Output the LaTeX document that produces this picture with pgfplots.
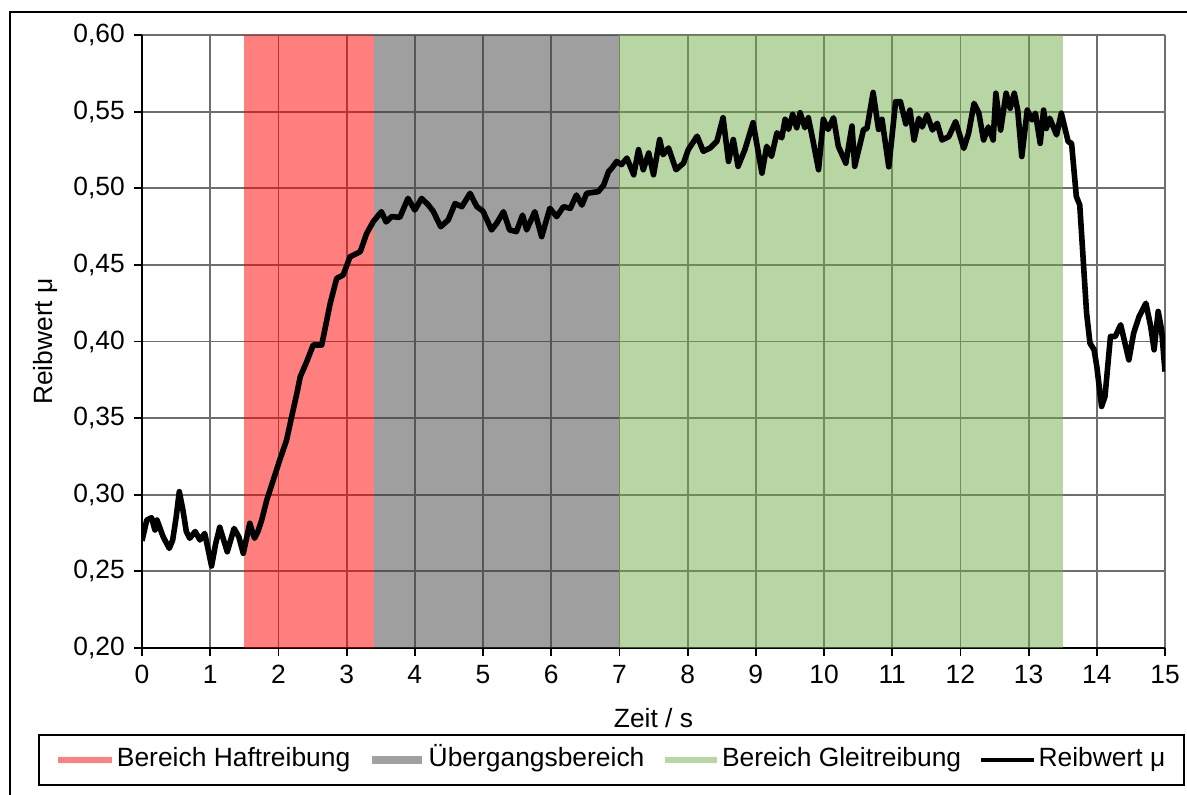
\documentclass[border=0pt]{standalone}
\usepackage{pgfplots}
\pgfplotsset{compat=1.18}
\usepackage{fontspec}
\setmainfont{Liberation Sans}
\definecolor{gridc}{RGB}{110,110,110}
\definecolor{legred}{RGB}{255,128,128}
\definecolor{leggray}{RGB}{160,160,160}
\definecolor{leggreen}{RGB}{184,215,163}
\definecolor{fgreen}{RGB}{112,173,71}
\begin{document}
\fontsize{13.2}{15.5}\selectfont
\begin{tikzpicture}
\begin{axis}[
  at={(0pt,0pt)}, anchor=south west,
  scale only axis, width=511.5pt, height=306.5pt,
  xmin=0, xmax=15, ymin=0.2, ymax=0.6,
  axis lines*=left,
  axis line style={black, line width=1pt},
  xtick={0,1,...,15},
  ytick={0.2,0.25,0.3,0.35,0.4,0.45,0.5,0.55,0.6},
  grid=major,
  major grid style={gridc, line width=0.9pt},
  tick align=outside, major tick length=4pt,
  tick style={black, line width=0.9pt},
  /pgf/number format/assume math mode=true,
  yticklabel style={/pgf/number format/.cd, fixed, fixed zerofill, precision=2, use comma},
  font=\fontsize{13.2}{15.5}\selectfont,
  xlabel={Zeit / s}, ylabel={Reibwert μ},
  xlabel style={at={(axis description cs:0.5,-0.1142)}, anchor=center},
  ylabel style={at={(axis description cs:-0.0948,0.5)}, anchor=center},
  legend columns=4,
  legend style={at={(axis description cs:-0.1017,-0.1403)}, anchor=north west,
    draw=black, line width=0.9pt, inner xsep=8pt, inner ysep=4pt,
    nodes={inner xsep=1.25pt, inner ysep=2pt, text height=10pt, text depth=3pt},
    /tikz/every even column/.append style={column sep=7.5pt},
    /tikz/every odd column/.append style={column sep=0pt}},
]
\addplot[draw=none, fill=red, fill opacity=0.5,
  legend image code/.code={\draw[legred, line width=2.8pt] (0pt,0pt) -- (27pt,0pt);}]
  coordinates {(1.5,0.2) (1.5,0.6) (3.4,0.6) (3.4,0.2)} -- cycle;
\addlegendentry{Bereich Haftreibung}
\addplot[draw=none, fill=black!75, fill opacity=0.5,
  legend image code/.code={\draw[leggray, line width=4.2pt] (0pt,0pt) -- (25pt,0pt);}]
  coordinates {(3.4,0.2) (3.4,0.6) (7,0.6) (7,0.2)} -- cycle;
\addlegendentry{Übergangsbereich}
\addplot[draw=none, fill=fgreen, fill opacity=0.5,
  legend image code/.code={\draw[leggreen, line width=2.8pt] (0pt,0pt) -- (26pt,0pt);}]
  coordinates {(7,0.2) (7,0.6) (13.5,0.6) (13.5,0.2)} -- cycle;
\addlegendentry{Bereich Gleitreibung}
\addplot[black, line width=2.8pt, line join=round, mark=none,
  legend image code/.code={\draw[black, line width=2.2pt] (0pt,0pt) -- (26.5pt,0pt);}]
  coordinates {
(0,0.270) (0.07,0.2835) (0.14,0.285) (0.19,0.277) (0.22,0.2835) (0.31,0.2726)
(0.40,0.265) (0.45,0.2705) (0.50,0.285) (0.547,0.302) (0.60,0.29) (0.65,0.2760)
(0.70,0.2716) (0.78,0.2760) (0.85,0.2705) (0.92,0.2748) (1.02,0.2535) (1.08,0.268)
(1.14,0.2788) (1.25,0.2628) (1.35,0.2780) (1.42,0.2725) (1.485,0.2618) (1.58,0.2814)
(1.65,0.2716) (1.70,0.2760) (1.755,0.2835) (1.83,0.2966) (1.925,0.3096) (2.02,0.3227)
(2.12,0.3357) (2.195,0.351) (2.27,0.366) (2.32,0.377) (2.415,0.3868) (2.51,0.3977)
(2.635,0.3977) (2.68,0.4075) (2.76,0.425) (2.855,0.4412) (2.95,0.4434) (3.05,0.4553)
(3.20,0.4586) (3.295,0.4706) (3.39,0.4782) (3.51,0.4847) (3.58,0.478) (3.66,0.4815)
(3.78,0.481) (3.90,0.4934) (4.0,0.4858) (4.1,0.4934) (4.2,0.489) (4.27,0.485)
(4.38,0.4749) (4.49,0.4793) (4.59,0.490) (4.69,0.488) (4.81,0.4967) (4.91,0.488)
(5.0,0.485) (5.125,0.4728) (5.20,0.4771) (5.30,0.4847) (5.39,0.4728) (5.49,0.4717)
(5.58,0.4825) (5.64,0.4728) (5.76,0.4847) (5.86,0.4684) (5.98,0.4869) (6.08,0.4815)
(6.18,0.488) (6.28,0.4869) (6.37,0.4956) (6.45,0.489) (6.52,0.4967) (6.69,0.4978)
(6.77,0.5021) (6.84,0.5108) (6.89,0.5132) (6.96,0.5175) (7.03,0.5154) (7.11,0.5197)
(7.21,0.5088) (7.28,0.5252) (7.35,0.5121) (7.43,0.523) (7.50,0.5088) (7.59,0.5318)
(7.64,0.5219) (7.72,0.5263) (7.83,0.5121) (7.94,0.5164) (8.01,0.5252) (8.14,0.534)
(8.23,0.5241) (8.33,0.5263) (8.43,0.5307) (8.52,0.546) (8.60,0.5175) (8.67,0.5318)
(8.74,0.5143) (8.84,0.5252) (8.96,0.5428) (9.09,0.5099) (9.16,0.5274) (9.23,0.5208)
(9.31,0.5362) (9.38,0.5329) (9.43,0.545) (9.48,0.5384) (9.54,0.5482) (9.60,0.5395)
(9.65,0.5493) (9.72,0.5395) (9.77,0.546) (9.84,0.5307) (9.92,0.5121) (9.99,0.545)
(10.06,0.5384) (10.14,0.546) (10.21,0.5274) (10.32,0.5164) (10.41,0.5406) (10.45,0.5143)
(10.58,0.5384) (10.63,0.539) (10.72,0.5625) (10.80,0.5384) (10.85,0.545) (10.95,0.514)
(11.05,0.5565) (11.12,0.5565) (11.20,0.542) (11.26,0.551) (11.32,0.5315) (11.39,0.5457)
(11.44,0.540) (11.51,0.548) (11.59,0.538) (11.66,0.5424) (11.73,0.5315) (11.83,0.5337)
(11.93,0.5435) (12.05,0.526) (12.12,0.5359) (12.20,0.5554) (12.27,0.549) (12.34,0.5315)
(12.41,0.540) (12.48,0.5315) (12.52,0.562) (12.59,0.538) (12.67,0.562) (12.73,0.5522)
(12.79,0.562) (12.84,0.551) (12.90,0.5207) (12.98,0.551) (13.05,0.5446) (13.10,0.549)
(13.17,0.5293) (13.22,0.551) (13.26,0.539) (13.31,0.5457) (13.41,0.5348) (13.48,0.549)
(13.58,0.5304) (13.63,0.5293) (13.70,0.4946) (13.75,0.4891) (13.85,0.4185) (13.90,0.3989)
(13.96,0.3946) (14.0,0.3837) (14.07,0.3576) (14.12,0.3641) (14.20,0.4033) (14.27,0.4033)
(14.35,0.4109) (14.47,0.388) (14.54,0.4054) (14.62,0.4163) (14.72,0.425) (14.79,0.4098)
(14.84,0.3946) (14.90,0.4196) (14.95,0.4076) (15.0,0.3804)
  };
\addlegendentry{Reibwert μ}
\end{axis}
\draw[black, line width=1pt] (-66pt,-80pt) -- (-66pt,318pt) -- (530pt,318pt);
\pgfresetboundingbox
\path (-71pt,-73pt) rectangle (522.5pt,324pt);
\end{tikzpicture}
\end{document}
